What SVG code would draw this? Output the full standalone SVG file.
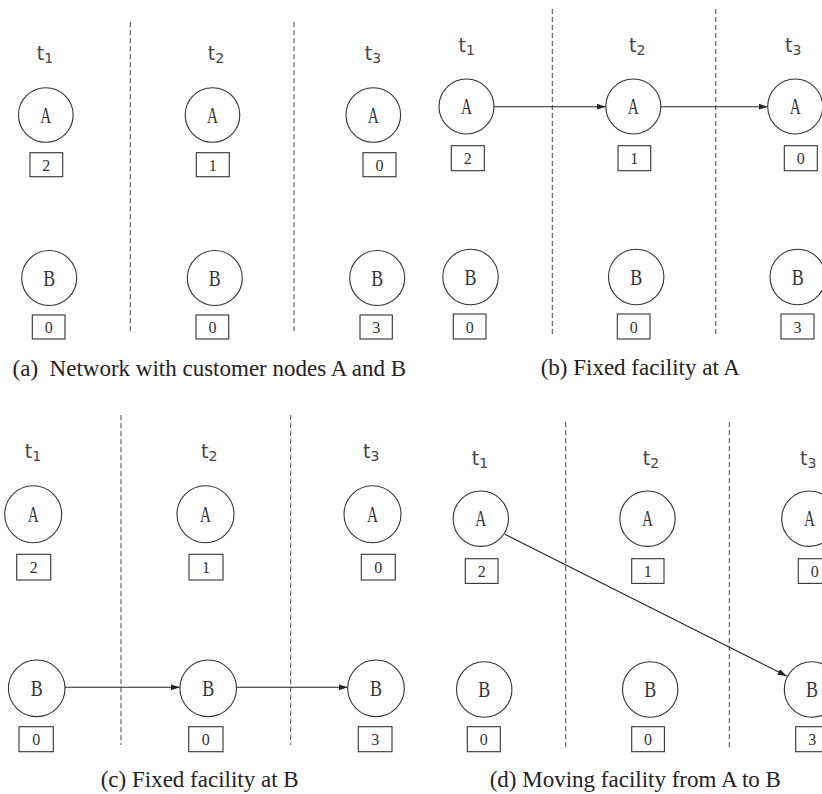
<svg xmlns="http://www.w3.org/2000/svg" width="822" height="794" viewBox="0 0 822 794">
<style>
.nc{fill:#fff;stroke:#333;stroke-width:1.1}
.bx{fill:#fff;stroke:#333;stroke-width:1.1}
.lt{font-family:"Liberation Serif",serif;font-size:23px;fill:#333;text-anchor:middle}
.dg{font-family:"Liberation Serif",serif;font-size:16px;fill:#333;text-anchor:middle}
.tl{font-family:"DejaVu Sans","Liberation Sans",sans-serif;font-size:19px;fill:#444;text-anchor:middle}
.cap{font-family:"Liberation Serif",serif;font-size:23px;fill:#222;text-anchor:middle}
.ds{stroke:#555;stroke-width:1.1;stroke-dasharray:5 3;fill:none}
.ar{stroke:#222;stroke-width:1.1;fill:none;marker-end:url(#ah)}
</style>
<defs>
<marker id="ah" viewBox="0 0 9 6" refX="9" refY="3" markerWidth="9" markerHeight="6" markerUnits="userSpaceOnUse" orient="auto">
<path d="M0,0 L9,3 L0,6 z" fill="#222"/>
</marker>
</defs>
<rect width="822" height="794" fill="#fff"/>

<!-- dividers -->
<g id="dividers">
<line class="ds" x1="130.3" y1="22" x2="130.3" y2="333"/>
<line class="ds" x1="294" y1="22" x2="294" y2="333"/>
<line class="ds" x1="552.3" y1="9" x2="552.3" y2="336"/>
<line class="ds" x1="715.7" y1="9" x2="715.7" y2="336"/>
<line class="ds" x1="121" y1="415" x2="121" y2="745"/>
<line class="ds" x1="290.7" y1="415" x2="290.7" y2="745"/>
<line class="ds" x1="565.7" y1="422" x2="565.7" y2="748"/>
<line class="ds" x1="729.3" y1="422" x2="729.3" y2="748"/>
</g>

<!-- time labels -->
<g id="time-labels">
<text class="tl" x="45" y="60">t<tspan font-size="14" dy="3">1</tspan></text>
<text class="tl" x="216" y="60">t<tspan font-size="14" dy="3">2</tspan></text>
<text class="tl" x="373" y="60">t<tspan font-size="14" dy="3">3</tspan></text>
<text class="tl" x="466.7" y="52">t<tspan font-size="14" dy="3">1</tspan></text>
<text class="tl" x="637.3" y="52">t<tspan font-size="14" dy="3">2</tspan></text>
<text class="tl" x="793.3" y="52">t<tspan font-size="14" dy="3">3</tspan></text>
<text class="tl" x="33" y="458">t<tspan font-size="14" dy="3">1</tspan></text>
<text class="tl" x="209.3" y="458">t<tspan font-size="14" dy="3">2</tspan></text>
<text class="tl" x="371.3" y="458">t<tspan font-size="14" dy="3">3</tspan></text>
<text class="tl" x="480" y="465">t<tspan font-size="14" dy="3">1</tspan></text>
<text class="tl" x="651" y="465">t<tspan font-size="14" dy="3">2</tspan></text>
<text class="tl" x="808.3" y="465">t<tspan font-size="14" dy="3">3</tspan></text>
</g>

<!-- connectors -->
<g id="connectors">
<line class="ar" x1="494" y1="106.7" x2="605.7" y2="106.7"/>
<line class="ar" x1="661" y1="106.7" x2="767.7" y2="106.7"/>
<line class="ar" x1="65" y1="687.3" x2="179.7" y2="687.3"/>
<line class="ar" x1="236.7" y1="687.3" x2="347.7" y2="687.3"/>
<line class="ar" x1="505" y1="534.3" x2="786.7" y2="676"/>
</g>

<!-- panel a -->
<g id="a-A1"><circle class="nc" cx="45.8" cy="115" r="27.3"/><text class="lt" x="45.8" y="122.5" textLength="11" lengthAdjust="spacingAndGlyphs">A</text><rect class="bx" x="30" y="152.7" width="32.7" height="24"/><text class="dg" x="46.3" y="170.5">2</text></g>
<g id="a-A2"><circle class="nc" cx="212.5" cy="115" r="27.3"/><text class="lt" x="212.5" y="122.5" textLength="11" lengthAdjust="spacingAndGlyphs">A</text><rect class="bx" x="196.3" y="152.7" width="33" height="24"/><text class="dg" x="212.8" y="170.5">1</text></g>
<g id="a-A3"><circle class="nc" cx="373.3" cy="115" r="27.3"/><text class="lt" x="373.3" y="122.5" textLength="11" lengthAdjust="spacingAndGlyphs">A</text><rect class="bx" x="363" y="152.7" width="33" height="24"/><text class="dg" x="379.5" y="170.5">0</text></g>
<g id="a-B1"><circle class="nc" cx="49.2" cy="278" r="27.5"/><text class="lt" x="49.2" y="285.5" textLength="12" lengthAdjust="spacingAndGlyphs">B</text><rect class="bx" x="32.3" y="315" width="32.7" height="24"/><text class="dg" x="48.7" y="333">0</text></g>
<g id="a-B2"><circle class="nc" cx="214.8" cy="278" r="27.5"/><text class="lt" x="214.8" y="285.5" textLength="12" lengthAdjust="spacingAndGlyphs">B</text><rect class="bx" x="196" y="315" width="32.7" height="24"/><text class="dg" x="212.4" y="333">0</text></g>
<g id="a-B3"><circle class="nc" cx="377.2" cy="278" r="27.5"/><text class="lt" x="377.2" y="285.5" textLength="12" lengthAdjust="spacingAndGlyphs">B</text><rect class="bx" x="360" y="315" width="32.3" height="24"/><text class="dg" x="376.2" y="333">3</text></g>
<text class="cap" x="209.3" y="376">(a)&#160; Network with customer nodes A and B</text>

<!-- panel b -->
<g id="b-A1"><circle class="nc" cx="466.5" cy="106.5" r="27.5"/><text class="lt" x="466.5" y="114" textLength="11" lengthAdjust="spacingAndGlyphs">A</text><rect class="bx" x="451.3" y="145.7" width="33" height="25"/><text class="dg" x="467.8" y="164">2</text></g>
<g id="b-A2"><circle class="nc" cx="633.3" cy="106.5" r="27.5"/><text class="lt" x="633.3" y="114" textLength="11" lengthAdjust="spacingAndGlyphs">A</text><rect class="bx" x="618" y="145.7" width="32.7" height="25"/><text class="dg" x="634.3" y="164">1</text></g>
<g id="b-A3"><circle class="nc" cx="795.2" cy="106.5" r="27.5"/><text class="lt" x="795.2" y="114" textLength="11" lengthAdjust="spacingAndGlyphs">A</text><rect class="bx" x="784.3" y="145.7" width="33" height="25"/><text class="dg" x="800.8" y="164">0</text></g>
<g id="b-B1"><circle class="nc" cx="470.5" cy="277" r="27.7"/><text class="lt" x="470.5" y="284.5" textLength="12" lengthAdjust="spacingAndGlyphs">B</text><rect class="bx" x="453.3" y="314" width="32.7" height="25"/><text class="dg" x="469.7" y="332.5">0</text></g>
<g id="b-B2"><circle class="nc" cx="636.2" cy="277" r="27.7"/><text class="lt" x="636.2" y="284.5" textLength="12" lengthAdjust="spacingAndGlyphs">B</text><rect class="bx" x="617.3" y="314" width="32.7" height="25"/><text class="dg" x="633.7" y="332.5">0</text></g>
<g id="b-B3"><circle class="nc" cx="797.7" cy="277" r="27.7"/><text class="lt" x="797.7" y="284.5" textLength="12" lengthAdjust="spacingAndGlyphs">B</text><rect class="bx" x="781" y="314" width="33" height="25"/><text class="dg" x="797.5" y="332.5">3</text></g>
<text class="cap" x="640.3" y="375">(b) Fixed facility at A</text>

<!-- panel c -->
<g id="c-A1"><circle class="nc" cx="33.2" cy="514.3" r="28.5"/><text class="lt" x="33.2" y="522" textLength="11" lengthAdjust="spacingAndGlyphs">A</text><rect class="bx" x="16.7" y="554.3" width="34" height="25.7"/><text class="dg" x="33.7" y="573">2</text></g>
<g id="c-A2"><circle class="nc" cx="205.5" cy="514.3" r="28.5"/><text class="lt" x="205.5" y="522" textLength="11" lengthAdjust="spacingAndGlyphs">A</text><rect class="bx" x="189" y="554.3" width="34" height="25.7"/><text class="dg" x="206" y="573">1</text></g>
<g id="c-A3"><circle class="nc" cx="372.5" cy="514.3" r="28.5"/><text class="lt" x="372.5" y="522" textLength="11" lengthAdjust="spacingAndGlyphs">A</text><rect class="bx" x="361.3" y="554.3" width="34" height="25.7"/><text class="dg" x="378.3" y="573">0</text></g>
<g id="c-B1"><circle class="nc" cx="36.7" cy="688.3" r="28.3"/><text class="lt" x="36.7" y="696" textLength="12" lengthAdjust="spacingAndGlyphs">B</text><rect class="bx" x="19" y="726.7" width="34.3" height="25"/><text class="dg" x="36.2" y="745">0</text></g>
<g id="c-B2"><circle class="nc" cx="208.2" cy="688.3" r="28.3"/><text class="lt" x="208.2" y="696" textLength="12" lengthAdjust="spacingAndGlyphs">B</text><rect class="bx" x="188.7" y="726.7" width="34.3" height="25"/><text class="dg" x="205.8" y="745">0</text></g>
<g id="c-B3"><circle class="nc" cx="376" cy="688.3" r="28.3"/><text class="lt" x="376" y="696" textLength="12" lengthAdjust="spacingAndGlyphs">B</text><rect class="bx" x="358.3" y="726.7" width="33.7" height="25"/><text class="dg" x="375.2" y="745">3</text></g>
<text class="cap" x="199.7" y="786.5">(c) Fixed facility at B</text>

<!-- panel d -->
<g id="d-A1"><circle class="nc" cx="480.8" cy="518.7" r="27.7"/><text class="lt" x="480.8" y="526.3" textLength="11" lengthAdjust="spacingAndGlyphs">A</text><rect class="bx" x="465.3" y="558.7" width="32.7" height="24.7"/><text class="dg" x="481.7" y="577">2</text></g>
<g id="d-A2"><circle class="nc" cx="647.5" cy="518.7" r="27.7"/><text class="lt" x="647.5" y="526.3" textLength="11" lengthAdjust="spacingAndGlyphs">A</text><rect class="bx" x="631.7" y="558.7" width="32.3" height="24.7"/><text class="dg" x="647.8" y="577">1</text></g>
<g id="d-A3"><circle class="nc" cx="809.4" cy="518.7" r="27.7"/><text class="lt" x="809.4" y="526.3" textLength="11" lengthAdjust="spacingAndGlyphs">A</text><rect class="bx" x="798.3" y="558.7" width="33" height="24.7"/><text class="dg" x="814.8" y="577">0</text></g>
<g id="d-B1"><circle class="nc" cx="484.2" cy="689.5" r="27.7"/><text class="lt" x="484.2" y="697.2" textLength="12" lengthAdjust="spacingAndGlyphs">B</text><rect class="bx" x="467.3" y="726.7" width="33" height="25"/><text class="dg" x="483.8" y="745">0</text></g>
<g id="d-B2"><circle class="nc" cx="650.2" cy="689.5" r="27.7"/><text class="lt" x="650.2" y="697.2" textLength="12" lengthAdjust="spacingAndGlyphs">B</text><rect class="bx" x="631.7" y="726.7" width="32.7" height="25"/><text class="dg" x="648" y="745">0</text></g>
<g id="d-B3"><circle class="nc" cx="812" cy="689.5" r="27.7"/><text class="lt" x="812" y="697.2" textLength="12" lengthAdjust="spacingAndGlyphs">B</text><rect class="bx" x="795.7" y="726.7" width="33" height="25"/><text class="dg" x="812.2" y="745">3</text></g>
<text class="cap" x="635.3" y="786.5">(d) Moving facility from A to B</text>
</svg>
